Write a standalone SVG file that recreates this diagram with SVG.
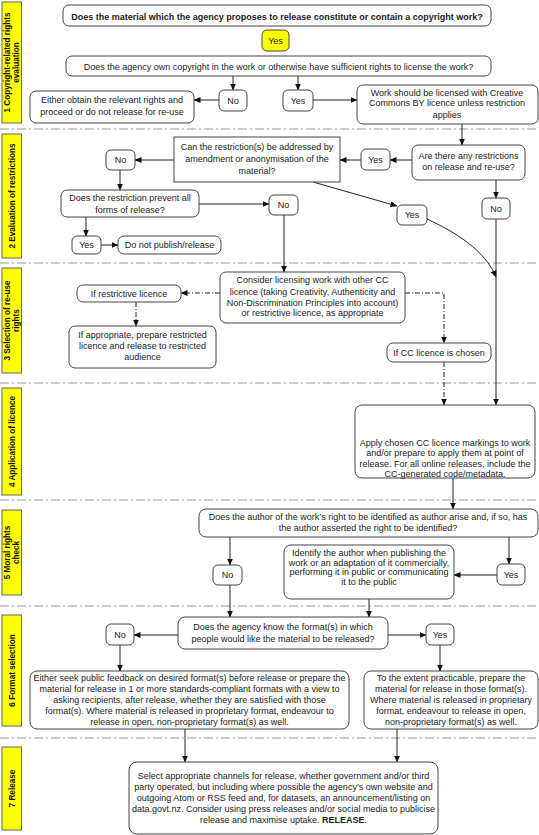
<svg xmlns="http://www.w3.org/2000/svg" width="539" height="835" viewBox="0 0 539 835">
<defs>
<marker id="ah" markerWidth="7" markerHeight="6" refX="6.5" refY="3" orient="auto" markerUnits="userSpaceOnUse">
<path d="M0,0 L7,3 L0,6 Z" fill="#111"/>
</marker>
<style>
text{font-family:"Liberation Sans",Arial,sans-serif;font-size:9px;fill:#222;text-anchor:middle}
.b{font-weight:bold}
.lane{font-weight:bold;font-size:8.2px;fill:#111}
.lbox{fill:#ffff00;stroke:#666;stroke-width:1}
.sep{stroke:#999;stroke-width:1.2;stroke-dasharray:9,3,2,3;fill:none}
.n{fill:#fff;stroke:#444;stroke-width:1}
.y{fill:#ffff00;stroke:#444;stroke-width:1}
.c{stroke:#222;stroke-width:1;fill:none;marker-end:url(#ah)}
.d{stroke:#222;stroke-width:1;fill:none;stroke-dasharray:5,2,1,2;marker-end:url(#ah)}
</style>
</defs>
<rect width="539" height="835" fill="#fff"/>

<g id="lanes">
<line class="sep" x1="0" y1="129" x2="539" y2="129"/>
<line class="sep" x1="0" y1="263" x2="539" y2="263"/>
<line class="sep" x1="0" y1="383" x2="539" y2="383"/>
<line class="sep" x1="0" y1="500" x2="539" y2="500"/>
<line class="sep" x1="0" y1="606" x2="539" y2="606"/>
<line class="sep" x1="0" y1="738" x2="539" y2="738"/>
<rect class="lbox" x="2" y="2" width="19.5" height="121"/>
<text class="lane" transform="translate(11.5,62.5) rotate(-90)"><tspan x="0" y="-1.5">1 Copyright-related rights</tspan><tspan x="0" y="7">evaluation</tspan></text>
<rect class="lbox" x="2" y="134" width="19.5" height="124"/>
<text class="lane" transform="translate(11.5,196) rotate(-90)" y="3.5">2 Evaluation of restrictions</text>
<rect class="lbox" x="2" y="268" width="19.5" height="105"/>
<text class="lane" transform="translate(11.5,320.5) rotate(-90)"><tspan x="0" y="-1.5">3 Selection of re-use</tspan><tspan x="0" y="7">rights</tspan></text>
<rect class="lbox" x="2" y="388" width="19.5" height="107"/>
<text class="lane" transform="translate(11.5,441.5) rotate(-90)" y="3.5">4 Application of licence</text>
<rect class="lbox" x="2" y="510" width="19.5" height="85"/>
<text class="lane" transform="translate(11.5,552.5) rotate(-90)"><tspan x="0" y="-1.5">5 Moral rights</tspan><tspan x="0" y="7">check</tspan></text>
<rect class="lbox" x="2" y="615" width="19.5" height="111"/>
<text class="lane" transform="translate(11.5,670.5) rotate(-90)" y="3.5">6 Format selection</text>
<rect class="lbox" x="2" y="747" width="19.5" height="83"/>
<text class="lane" transform="translate(11.5,788.5) rotate(-90)" y="3.5">7 Release</text>
</g>

<g id="connectors">
<line class="c" x1="233" y1="76" x2="233" y2="90"/>
<line class="c" x1="298" y1="76" x2="298" y2="90"/>
<line class="c" x1="219" y1="100" x2="194" y2="100"/>
<line class="c" x1="313" y1="100" x2="357" y2="100"/>
<line class="c" x1="462" y1="124" x2="462" y2="145"/>
<line class="c" x1="412" y1="160" x2="390" y2="160"/>
<line class="c" x1="361" y1="160" x2="340" y2="160"/>
<line class="c" x1="174" y1="160" x2="135" y2="160"/>
<line class="c" x1="120" y1="170" x2="120" y2="190"/>
<line class="c" x1="199" y1="204" x2="269" y2="204"/>
<line class="c" x1="86" y1="217" x2="86" y2="236"/>
<line class="c" x1="101" y1="245" x2="118" y2="245"/>
<line class="c" x1="313" y1="182" x2="397" y2="206"/>
<line class="c" x1="496" y1="180" x2="496" y2="198"/>
<line class="c" x1="496" y1="219" x2="496" y2="405"/>
<path class="c" d="M427,219 C455,232 485,250 496,277"/>
<line class="c" x1="284" y1="215" x2="284" y2="272"/>
<line class="d" x1="220" y1="293" x2="181" y2="293"/>
<line class="d" x1="136" y1="302" x2="136" y2="326"/>
<polyline class="d" points="405,293 444,293 444,343"/>
<line class="d" x1="444" y1="362" x2="444" y2="405"/>
<line class="c" x1="453" y1="478" x2="453" y2="509"/>
<line class="c" x1="230" y1="537" x2="230" y2="565"/>
<line class="c" x1="509" y1="537" x2="509" y2="564"/>
<line class="c" x1="497" y1="575" x2="454" y2="575"/>
<line class="c" x1="230" y1="585" x2="230" y2="617"/>
<line class="c" x1="369" y1="599" x2="369" y2="617"/>
<line class="c" x1="178" y1="635" x2="134" y2="635"/>
<line class="c" x1="388" y1="635" x2="426" y2="635"/>
<line class="c" x1="120" y1="645" x2="120" y2="671"/>
<line class="c" x1="440" y1="645" x2="440" y2="671"/>
<line class="c" x1="185" y1="729" x2="185" y2="762"/>
<line class="c" x1="397" y1="729" x2="397" y2="762"/>
</g>

<g id="q-copyright">
<rect class="n" x="63" y="5" width="428" height="21" rx="6"/>
<text class="b" x="277" y="19.5">Does the material which the agency proposes to release constitute or contain a copyright work?</text>
</g>
<g id="yes-copyright">
<rect class="y" x="262" y="30" width="27" height="21" rx="5"/>
<text x="275.5" y="44">Yes</text>
</g>
<g id="q-own">
<rect class="n" x="66" y="56" width="425" height="20" rx="6"/>
<text x="278.5" y="69.5">Does the agency own copyright in the work or otherwise have sufficient rights to license the work?</text>
</g>
<g id="no-own">
<rect class="n" x="219" y="90" width="28" height="21" rx="5"/>
<text x="233" y="103.5">No</text>
</g>
<g id="obtain-rights">
<rect class="n" x="30" y="91" width="164" height="32" rx="6"/>
<text x="112" y="103">Either obtain the relevant rights and</text>
<text x="112" y="115">proceed or do not release for re-use</text>
</g>
<g id="yes-own">
<rect class="n" x="283" y="90" width="30" height="21" rx="5"/>
<text x="298" y="103.5">Yes</text>
</g>
<g id="cc-by">
<rect class="n" x="357" y="85" width="181" height="39" rx="6"/>
<text x="447" y="96">Work should be licensed with Creative</text>
<text x="447" y="106">Commons BY licence unless restriction</text>
<text x="447" y="118">applies</text>
</g>

<g id="q-addressed">
<rect class="n" x="174" y="137" width="166" height="45"/>
<text x="257" y="150">Can the restriction(s) be addressed by</text>
<text x="257" y="162">amendment or anonymisation of the</text>
<text x="257" y="174">material?</text>
</g>
<g id="yes-restrictions">
<rect class="n" x="361" y="149" width="29" height="21" rx="5"/>
<text x="375.5" y="162.5">Yes</text>
</g>
<g id="q-restrictions">
<rect class="n" x="412" y="145" width="113" height="35" rx="6"/>
<text x="468.5" y="159">Are there any restrictions</text>
<text x="468.5" y="170">on release and re-use?</text>
</g>
<g id="no-addressed">
<rect class="n" x="106" y="150" width="29" height="20" rx="5"/>
<text x="120.5" y="163">No</text>
</g>
<g id="q-prevent">
<rect class="n" x="61" y="190" width="138" height="27" rx="6"/>
<text x="130" y="201">Does the restriction prevent all</text>
<text x="130" y="213">forms of release?</text>
</g>
<g id="yes-prevent">
<rect class="n" x="72" y="236" width="29" height="18" rx="5"/>
<text x="86.5" y="248">Yes</text>
</g>
<g id="do-not-publish">
<rect class="n" x="118" y="236" width="103" height="18" rx="6"/>
<text x="169.5" y="248">Do not publish/release</text>
</g>
<g id="no-prevent">
<rect class="n" x="269" y="195" width="29" height="20" rx="5"/>
<text x="283.5" y="208">No</text>
</g>
<g id="yes-addressed">
<rect class="n" x="397" y="205" width="30" height="20" rx="5"/>
<text x="412" y="218">Yes</text>
</g>
<g id="no-restrictions">
<rect class="n" x="482" y="198" width="28" height="21" rx="5"/>
<text x="496" y="211.5">No</text>
</g>

<g id="consider-licensing">
<rect class="n" x="220" y="272" width="185" height="51" rx="6"/>
<text x="312.5" y="283">Consider licensing work with other CC</text>
<text x="312.5" y="295">licence (taking Creativity, Authenticity and</text>
<text x="312.5" y="306">Non-Discrimination Principles into account)</text>
<text x="312.5" y="316">or restrictive licence, as appropriate</text>
</g>
<g id="if-restrictive">
<rect class="n" x="77" y="285" width="104" height="17" rx="6"/>
<text x="129" y="296.5">If restrictive licence</text>
</g>
<g id="prepare-restricted">
<rect class="n" x="69" y="326" width="147" height="42" rx="6"/>
<text x="142.5" y="338">If appropriate, prepare restricted</text>
<text x="142.5" y="349">licence and release to restricted</text>
<text x="142.5" y="360">audience</text>
</g>
<g id="if-cc">
<rect class="n" x="387" y="343" width="104" height="19" rx="6"/>
<text x="439" y="355.5">If CC licence is chosen</text>
</g>

<g id="apply-cc">
<rect class="n" x="355" y="405" width="180" height="73" rx="7"/>
<text x="445" y="446">Apply chosen CC licence markings to work</text>
<text x="445" y="456.3">and/or prepare to apply them at point of</text>
<text x="445" y="466.6">release. For all online releases, include the</text>
<text x="445" y="477">CC-generated code/metadata.</text>
</g>

<g id="q-author">
<rect class="n" x="199" y="509" width="339" height="28" rx="7"/>
<text x="368" y="520">Does the author of the work’s right to be identified as author arise and, if so, has</text>
<text x="368" y="531">the author asserted the right to be identified?</text>
</g>
<g id="no-author">
<rect class="n" x="213" y="565" width="29" height="20" rx="5"/>
<text x="227.5" y="578">No</text>
</g>
<g id="yes-author">
<rect class="n" x="497" y="564" width="28" height="21" rx="5"/>
<text x="511" y="577.5">Yes</text>
</g>
<g id="identify-author">
<rect class="n" x="284" y="545" width="170" height="54" rx="7"/>
<text x="369" y="556">Identify the author when publishing the</text>
<text x="369" y="565.5">work or an adaptation of it commercially,</text>
<text x="369" y="575">performing it in public or communicating</text>
<text x="369" y="584.5">it to the public</text>
</g>

<g id="q-format">
<rect class="n" x="178" y="617" width="210" height="32" rx="7"/>
<text x="283" y="630">Does the agency know the format(s) in which</text>
<text x="283" y="642">people would like the material to be released?</text>
</g>
<g id="no-format">
<rect class="n" x="106" y="624" width="28" height="21" rx="5"/>
<text x="120" y="637.5">No</text>
</g>
<g id="yes-format">
<rect class="n" x="426" y="624" width="28" height="21" rx="5"/>
<text x="440" y="637.5">Yes</text>
</g>
<g id="seek-feedback">
<rect class="n" x="30" y="671" width="319" height="58" rx="7"/>
<text x="189.5" y="681">Either seek public feedback on desired format(s) before release or prepare the</text>
<text x="189.5" y="692">material for release in 1 or more standards-compliant formats with a view to</text>
<text x="189.5" y="703">asking recipients, after release, whether they are satisfied with those</text>
<text x="189.5" y="714">format(s). Where material is released in proprietary format, endeavour to</text>
<text x="189.5" y="725">release in open, non-proprietary format(s) as well.</text>
</g>
<g id="prepare-formats">
<rect class="n" x="364" y="671" width="174" height="58" rx="7"/>
<text x="451" y="681">To the extent practicable, prepare the</text>
<text x="451" y="692">material for release in those format(s).</text>
<text x="451" y="703">Where material is released in proprietary</text>
<text x="451" y="714">format, endeavour to release in open,</text>
<text x="451" y="725">non-proprietary format(s) as well.</text>
</g>

<g id="release">
<rect class="n" x="129" y="762" width="309" height="72" rx="8"/>
<text x="283.5" y="779">Select appropriate channels for release, whether government and/or third</text>
<text x="283.5" y="790">party operated, but including where possible the agency’s own website and</text>
<text x="283.5" y="801">outgoing Atom or RSS feed and, for datasets, an announcement/listing on</text>
<text x="283.5" y="812">data.govt.nz. Consider using press releases and/or social media to publicise</text>
<text x="283.5" y="823">release and maximise uptake. <tspan class="b">RELEASE</tspan>.</text>
</g>
</svg>
